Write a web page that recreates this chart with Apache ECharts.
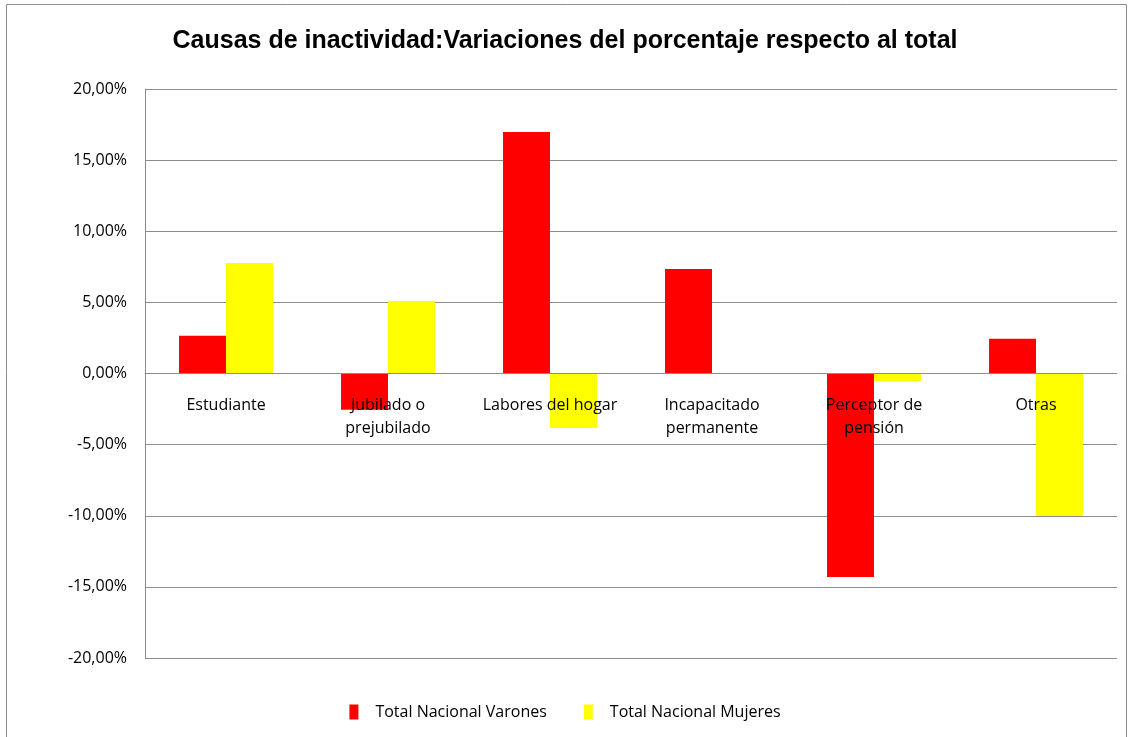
<!DOCTYPE html>
<html>
<head>
<meta charset="utf-8">
<script src="https://cdn.jsdelivr.net/npm/echarts@6/dist/echarts.min.js"></script>
<style>
  html, body { margin: 0; padding: 0; background: #fff; }
  #main { width: 1130px; height: 737px; }
</style>
</head>
<body>
<div id="main"></div>
<script>
  var categories = ['Estudiante', 'Jubilado o\nprejubilado', 'Labores del hogar',
                    'Incapacitado\npermanente', 'Perceptor de\npensión', 'Otras'];
  var varones = [2.65, -2.55, 16.98, 7.35, -14.3, 2.45];
  var mujeres = [7.77, 5.1, -3.83, 0, -0.53, -10.02];
  var yTicks = { min: -20, max: 20, step: 5 };

  var font = 'Open Sans, sans-serif';

  var option = {
    backgroundColor: '#fff',
    title: {
      text: 'Causas de inactividad:Variaciones del porcentaje respecto al total',
      left: 'center',
      top: 24,
      textStyle: {
        fontFamily: 'Liberation Sans, sans-serif',
        fontWeight: 'bold',
        fontSize: 25,
        color: '#000'
      }
    },
    legend: {
      bottom: 12,
      left: 'center',
      itemWidth: 9,
      itemHeight: 15,
      itemGap: 37,
      icon: 'rect',
      textStyle: { fontFamily: font, fontSize: 16, color: '#000', padding: [0, 0, 0, 12] },
      data: ['Total Nacional Varones', 'Total Nacional Mujeres']
    },
    graphic: [{
      type: 'rect',
      shape: { x: 6.5, y: 4.5, width: 1120, height: 740 },
      style: { fill: 'none', stroke: '#8c8c8c', lineWidth: 1 },
      silent: true
    }],
    grid: { left: 145, right: 13, top: 89, bottom: 79 },
    xAxis: {
      type: 'category',
      data: categories,
      z: 10,
      position: 'bottom',
      offset: -284.5,
      axisLine: { onZero: false, lineStyle: { color: '#8c8c8c', width: 1 } },
      axisTick: { show: false },
      axisLabel: {
        margin: 20,
        fontFamily: font,
        fontSize: 16,
        color: '#000',
        lineHeight: 23,
        interval: 0
      }
    },
    yAxis: {
      type: 'value',
      min: yTicks.min,
      max: yTicks.max,
      interval: yTicks.step,
      axisLine: { show: true, lineStyle: { color: '#8c8c8c' } },
      axisTick: { show: false },
      splitLine: { lineStyle: { color: '#8c8c8c', width: 1 } },
      axisLabel: {
        margin: 18,
        fontFamily: font,
        fontSize: 16,
        color: '#000',
        formatter: function (v) { return v.toFixed(2).replace('.', ',') + '%'; }
      }
    },
    series: [
      {
        name: 'Total Nacional Varones',
        type: 'bar',
        data: varones,
        barGap: '0%',
        barCategoryGap: '42%',
        itemStyle: { color: '#ff0000' }
      },
      {
        name: 'Total Nacional Mujeres',
        type: 'bar',
        data: mujeres,
        barGap: '0%',
        barCategoryGap: '42%',
        itemStyle: { color: '#ffff00' }
      }
    ]
  };

  var chart = echarts.init(document.getElementById('main'));
  chart.setOption(option);
</script>
</body>
</html>
